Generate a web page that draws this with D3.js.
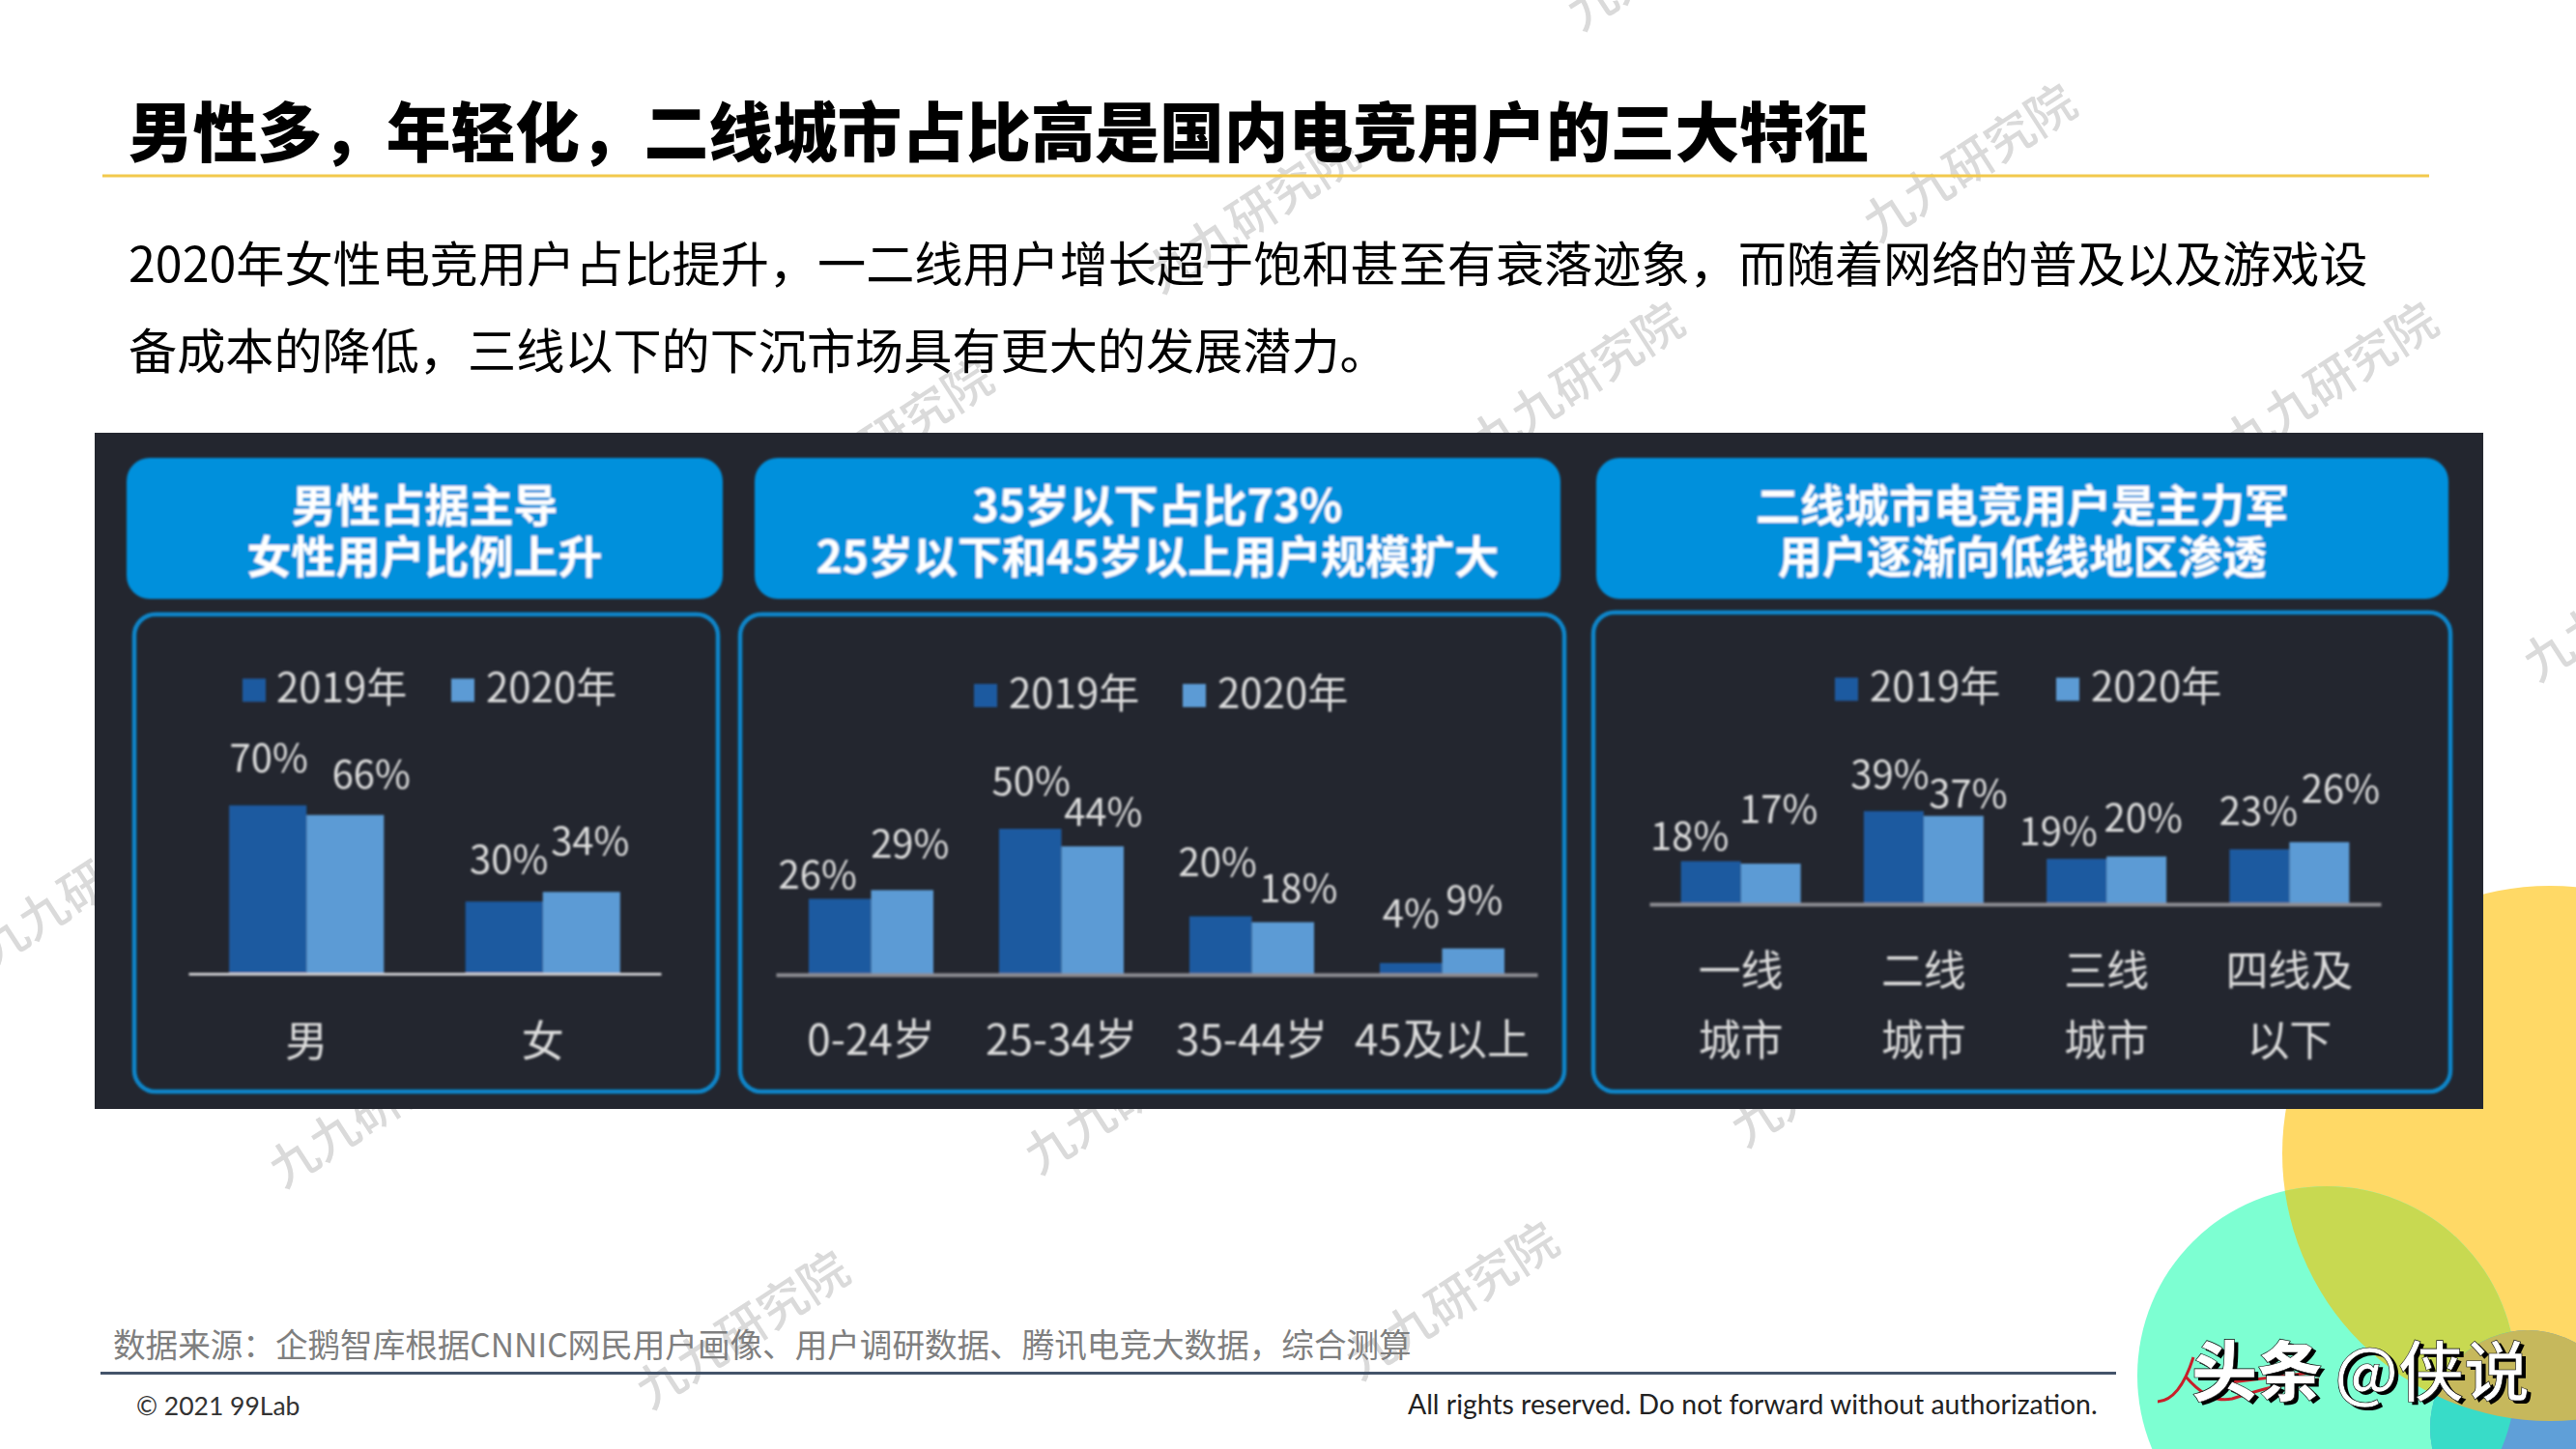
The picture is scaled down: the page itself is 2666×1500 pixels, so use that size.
<!DOCTYPE html>
<html><head><meta charset="utf-8">
<script src="https://cdn.jsdelivr.net/npm/d3@7"></script>
<style>
html,body{margin:0;padding:0;background:#fff}
svg{display:block}
text{font-family:"Noto Sans CJK SC","Noto Sans",sans-serif;dominant-baseline:central}
</style></head><body>
<svg id="c" width="2666" height="1500"></svg>
<script>
// ---------- data ----------
const titleText = "男性多，年轻化，二线城市占比高是国内电竞用户的三大特征";
const introLines = ["2020年女性电竞用户占比提升，一二线用户增长超于饱和甚至有衰落迹象，而随着网络的普及以及游戏设",
                    "备成本的降低，三线以下的下沉市场具有更大的发展潜力。"];
const sourceText = "数据来源：企鹅智库根据CNNIC网民用户画像、用户调研数据、腾讯电竞大数据，综合测算";
const copyrightText = "© 2021 99Lab";
const rightsText = "All rights reserved. Do not forward without authorization.";
const watermarkText = "九九研究院";
const seriesNames = ["2019年","2020年"];

const genderCats = ["男","女"];
const gender2019 = [70,30];
const gender2020 = [66,34];
const genderHead = ["男性占据主导","女性用户比例上升"];

const ageCats = ["0-24岁","25-34岁","35-44岁","45及以上"];
const age2019 = [26,50,20,4];
const age2020 = [29,44,18,9];
const ageHead = ["35岁以下占比73%","25岁以下和45岁以上用户规模扩大"];

const cityCats = ["一线\n城市","二线\n城市","三线\n城市","四线及\n以下"];
const city2019 = [18,39,19,23];
const city2020 = [17,37,20,26];
const cityHead = ["二线城市电竞用户是主力军","用户逐渐向低线地区渗透"];

// ---------- layout ----------
const colors = {panel:"#23262f",head:"#0090dc",frame:"#0a85c9",s19:"#1f5aa0",s20:"#5b9bd5",txt:"#dcdcdc"};
const panels = [
 {cats:genderCats,a:gender2019,b:gender2020,head:genderHead,
  hx:[131,748],fx:[139,743],fy:[636,1130],ax:[195,684],base:1008,k:2.49,axisColor:"#c9c9cc",axisW:3,
  legY:714.5,leg:[[251,286],[467,503]],tickDy:67,
  nudge:[[1,-52],[5,-46],[27,-45],[9,-55]]},
 {cats:ageCats,a:age2019,b:age2020,head:ageHead,
  hx:[781,1615],fx:[766,1619],fy:[636,1130],ax:[803,1591],base:1009,k:3.02,axisColor:"#8c8c92",axisW:4,
  legY:720,leg:[[1008,1044],[1224,1260]],tickDy:64,
  nudge:[[-23,-27],[1,-52],[-3,-59],[0,-54],[8,-50],[11,-38],[16,-38],[1,-53]]},
 {cats:cityCats,a:city2019,b:city2020,head:cityHead,
  hx:[1652,2534],fx:[1649,2536],fy:[634,1130],ax:[1707,2464],base:936,k:2.47,axisColor:"#8c8c92",axisW:4,
  legY:713.5,leg:[[1899,1935],[2128,2164]],tickDy:66,lineGap:72,
  nudge:[[-22,-29],[-4,-41],[-19,-31],[-1,-42],[8,-59],[15,-26],[7,-43],[22,-58]]}
];
const wmPos = [[1294,218],[2036,165],[1630,391],[915,450],[2410,391],[85,915],[386,1144],[1168,1130],
               [1899,1102],[766,1373],[1500,1343],[2719,620],[1729,-54]];

const svg = d3.select("#c");
svg.append("rect").attr("width",2666).attr("height",1500).attr("fill","#fff");

// decorative circles
const defs = svg.append("defs");
const circ = {y:[2639,1194,277],t:[2408,1424,196],b:[2616,1478,101]};
Object.entries(circ).forEach(([k,c])=>{
  defs.append("clipPath").attr("id","clip-"+k).append("circle").attr("cx",c[0]).attr("cy",c[1]).attr("r",c[2]);
});
const dc = (c,fill,clip)=>{const e=svg.append("circle").attr("cx",c[0]).attr("cy",c[1]).attr("r",c[2]).attr("fill",fill);
  if(clip)e.attr("clip-path",`url(#clip-${clip})`);return e;};
dc(circ.y,"#ffd966");
dc(circ.t,"#7dffd2");
dc(circ.b,"#5f9fd8");
dc(circ.t,"#c8d951","y");
dc(circ.b,"#38dcc8","t");
dc(circ.b,"#c6b85c","y");

// watermarks
svg.append("g").selectAll("text").data(wmPos).join("text")
  .attr("transform",d=>`translate(${d[0]},${d[1]}) rotate(-33)`)
  .attr("text-anchor","middle").attr("font-size",50).attr("font-weight",500).attr("fill","#dadada")
  .text(watermarkText);

// title & intro
svg.append("text").attr("x",133).attr("y",133).attr("font-size",66.7).attr("font-weight",900).attr("fill","#000").text(titleText);
svg.append("line").attr("x1",106).attr("x2",2514).attr("y1",182).attr("y2",182).attr("stroke","#f2c94c").attr("stroke-width",3);
svg.append("g").selectAll("text").data(introLines).join("text")
  .attr("x",133).attr("y",(d,i)=>i?360:270).attr("font-size",50.15).attr("font-weight",400).attr("fill","#000").text(d=>d);

// dark panel
svg.append("rect").attr("x",98).attr("y",448).attr("width",2472).attr("height",700).attr("fill",colors.panel);

defs.append("filter").attr("id","soft").attr("x","-5%").attr("y","-5%").attr("width","110%").attr("height","110%")
  .append("feGaussianBlur").attr("stdDeviation",0.8);
const root = svg.append("g").attr("filter","url(#soft)");

panels.forEach(p=>{
  const g = root.append("g");
  // header
  g.append("rect").attr("x",p.hx[0]).attr("y",474).attr("width",p.hx[1]-p.hx[0]).attr("height",146).attr("rx",24).attr("fill",colors.head);
  const hc=(p.hx[0]+p.hx[1])/2;
  g.selectAll("text.h").data(p.head).join("text").attr("class","h")
    .attr("x",hc).attr("y",(d,i)=>i?573:520).attr("text-anchor","middle").attr("font-size",46).attr("font-weight",700).attr("fill","#fff").text(d=>d);
  // frame
  g.append("rect").attr("x",p.fx[0]).attr("y",p.fy[0]).attr("width",p.fx[1]-p.fx[0]).attr("height",p.fy[1]-p.fy[0])
    .attr("rx",22).attr("fill","none").attr("stroke",colors.frame).attr("stroke-width",4.5);
  // scales
  const x = d3.scaleBand().domain(p.cats).range(p.ax).paddingInner(.345).paddingOuter(.1725);
  const x1 = d3.scaleBand().domain([0,1]).range([0,x.bandwidth()]);
  const y = d3.scaleLinear().domain([0,100]).range([p.base,p.base-100*p.k]);
  // bars
  const marks = [];
  [p.a,p.b].forEach((vals,s)=>vals.forEach((v,i)=>marks.push({cat:p.cats[i],s,v})));
  g.selectAll("rect.bar").data(marks).join("rect").attr("class","bar")
    .attr("x",d=>x(d.cat)+x1(d.s)).attr("width",x1.bandwidth())
    .attr("y",d=>y(d.v)).attr("height",d=>y(0)-y(d.v))
    .attr("fill",d=>d.s?colors.s20:colors.s19);
  // value labels (hand-placed in the reference: nudges follow the original layout)
  g.selectAll("text.v").data(marks).join("text").attr("class","v")
    .attr("x",(d,i)=>x(d.cat)+x1(d.s)+x1.bandwidth()/2+p.nudge[i][0])
    .attr("y",(d,i)=>y(d.v)+p.nudge[i][1])
    .attr("text-anchor","middle").attr("font-size",40).attr("fill",colors.txt).text(d=>d.v+"%");
  // axis
  const axis = g.append("g").attr("transform",`translate(0,${p.base})`)
    .call(d3.axisBottom(x).tickSize(0).tickPadding(0).tickFormat(()=>""));
  axis.select(".domain").attr("stroke",p.axisColor).attr("stroke-width",p.axisW);
  axis.selectAll(".tick text").each(function(d){
    const t=d3.select(this).text(null).attr("y",p.tickDy).attr("dy",null).attr("font-size",44)
      .attr("fill",colors.txt).attr("font-family",null);
    d.split("\n").forEach((s,i)=>t.append("tspan").attr("x",0).attr("y",p.tickDy+i*(p.lineGap||0)).text(s));
  });
  // legend
  p.leg.forEach((l,i)=>{
    g.append("rect").attr("x",l[0]).attr("y",p.legY-12).attr("width",24).attr("height",24).attr("fill",i?colors.s20:colors.s19);
    g.append("text").attr("x",l[1]).attr("y",p.legY-6).attr("font-size",42).attr("fill",colors.txt).text(seriesNames[i]);
  });
});

// footer
svg.append("text").attr("x",117).attr("y",1390).attr("font-size",33.6).attr("font-weight",400).attr("fill","#7f7f7f").text(sourceText);
svg.append("line").attr("x1",104).attr("x2",2190).attr("y1",1421.5).attr("y2",1421.5).attr("stroke","#44546a").attr("stroke-width",3);
svg.append("text").attr("x",141).attr("y",1455).attr("font-size",26.5).attr("fill","#333").style("font-family","Lato").text(copyrightText);
svg.append("text").attr("x",1457).attr("y",1453).attr("font-size",28.4).attr("fill","#222").style("font-family","Lato").text(rightsText);

// platform stamp
svg.append("path").attr("d","M2233 1451C2250 1450 2262 1430 2270 1405M2262 1425C2275 1440 2290 1452 2310 1448C2335 1440 2360 1432 2400 1428M2300 1432L2400 1420")
  .attr("fill","none").attr("stroke","#c8202a").attr("stroke-width",3);
[["头条",2268,900],["@侠说",2416,500]].forEach(([s,xx,w])=>{
  svg.append("text").attr("x",xx+4).attr("y",1418).attr("font-size",68).attr("font-weight",w).attr("fill","#000").text(s);
  svg.append("text").attr("x",xx).attr("y",1415).attr("font-size",68).attr("font-weight",w).attr("fill","#fff").attr("stroke","#000").attr("stroke-width",.6).text(s);
});
</script></body></html>
